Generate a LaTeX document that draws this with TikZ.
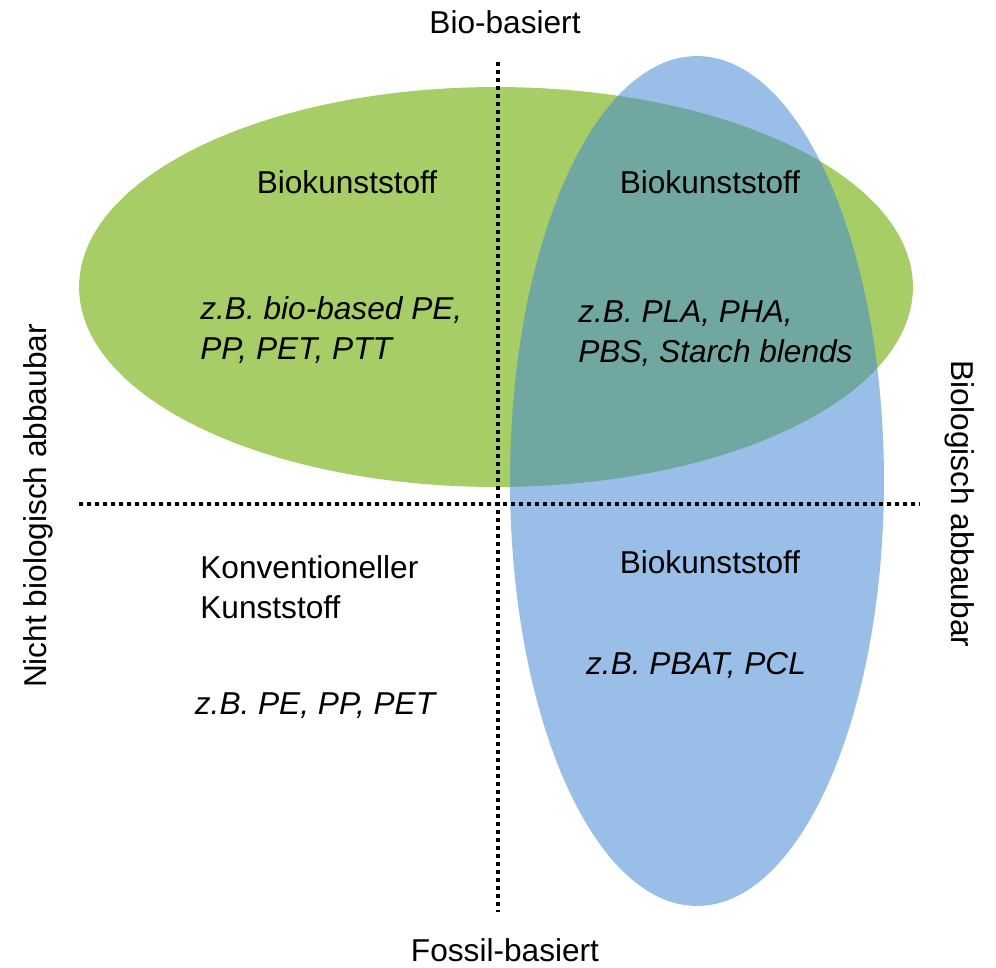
\documentclass[tikz,border=0pt]{standalone}
\usepackage{fontspec}
\setmainfont{Liberation Sans}
\usetikzlibrary{positioning}

\definecolor{bioGreen}{RGB}{166,205,102}
\definecolor{abbauBlue}{RGB}{70,137,211}

\begin{document}
\begin{tikzpicture}[x=0.02cm, y=-0.02cm, font=\fontsize{18}{22.7}\selectfont]
        \tikzstyle{title} = [inner sep=0pt, text centered]
        \tikzstyle{example} = [inner sep=0pt, align=left, font=\fontsize{18}{22.7}\selectfont\itshape]
        \tikzstyle{axis} = [draw, line width=0.08cm, dash pattern=on 0.08cm off 0.08cm]

        \useasboundingbox (0,0) rectangle (996,967);

        % ellipses
        \fill [bioGreen] (496,287) ellipse (8.34cm and 4cm);
        \fill [abbauBlue, fill opacity=0.55] (697,481) ellipse (3.74cm and 8.5cm);

        % axes
        \coordinate (top) at (498,62);
        \coordinate (bottom) at (498,912);
        \coordinate (left) at (79,504);
        \coordinate (right) at (920,504);
        \path [axis] (top) -- (bottom);
        \path [axis] (left) -- (right);

        \node [title] (bio) at (505,22) {Bio-basiert};
        \node [title] (fossil) at (505,950) {Fossil-basiert};
        \node [title, rotate=90] (nicht) at (38,506) {Nicht biologisch abbaubar};
        \node [title, rotate=-90] (abbaubar) at (960,504) {Biologisch abbaubar};

        % quadrants
        \node [title] (tl) at (347,182) {Biokunststoff};
        \node [example, anchor=west] (tlex) at (200,330) {z.B. bio-based PE,\\PP, PET, PTT};
        \node [title] (tr) at (710,182) {Biokunststoff};
        \node [example, anchor=west] (trex) at (578,334) {z.B. PLA, PHA,\\PBS, Starch blends};
        \node [title, align=left, anchor=west] (bl) at (200,587) {Konventioneller\\Kunststoff};
        \node [example] (blex) at (315,706) {z.B. PE, PP, PET};
        \node [title] (br) at (710,562) {Biokunststoff};
        \node [example] (brex) at (696,665) {z.B. PBAT, PCL};
    \end{tikzpicture}
\end{document}
